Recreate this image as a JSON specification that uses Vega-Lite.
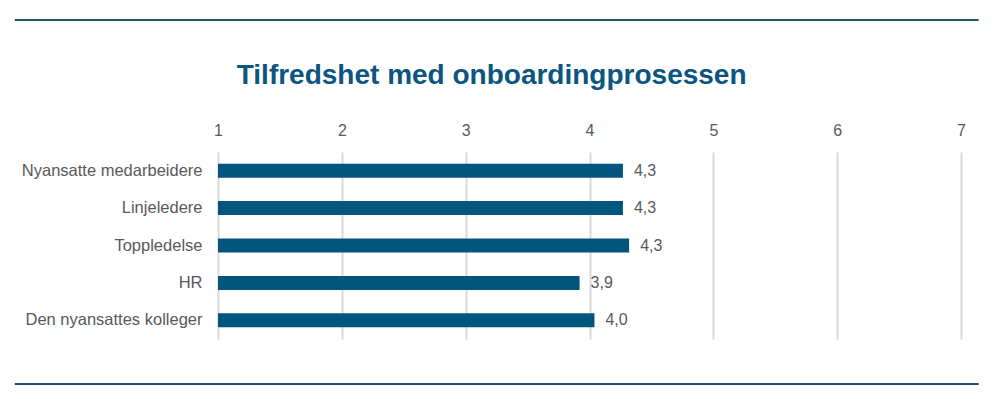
{
  "$schema": "https://vega.github.io/schema/vega-lite/v6.json",
  "width": 743,
  "height": 187,
  "autosize": {"type": "none"},
  "padding": {"left": 218, "top": 152, "right": 34, "bottom": 60},
  "background": "white",
  "title": {
    "text": "Tilfredshet med onboardingprosessen",
    "font": "Liberation Sans",
    "fontSize": 28,
    "fontWeight": "bold",
    "color": "#0b5580",
    "anchor": "middle",
    "frame": "bounds",
    "baseline": "alphabetic",
    "offset": -93,
    "dx": -5
  },
  "data": {
    "values": [
      {"gruppe": "Nyansatte medarbeidere", "verdi": 4.27, "etikett": "4,3"},
      {"gruppe": "Linjeledere", "verdi": 4.27, "etikett": "4,3"},
      {"gruppe": "Toppledelse", "verdi": 4.32, "etikett": "4,3"},
      {"gruppe": "HR", "verdi": 3.92, "etikett": "3,9"},
      {"gruppe": "Den nyansattes kolleger", "verdi": 4.04, "etikett": "4,0"}
    ]
  },
  "layer": [
    {
      "mark": {"type": "bar", "color": "#02557d", "size": 14},
      "encoding": {
        "y": {
          "field": "gruppe",
          "type": "nominal",
          "sort": null,
          "scale": {"paddingInner": 0, "paddingOuter": 0},
          "axis": {
            "title": null,
            "domain": false,
            "ticks": false,
            "labelLimit": 0,
            "labelFont": "Liberation Sans",
            "labelFontSize": 16.5,
            "labelColor": "#595959",
            "labelPadding": 16
          }
        },
        "x": {
          "field": "verdi",
          "type": "quantitative",
          "scale": {"domain": [1, 7], "nice": false, "zero": false},
          "axis": {
            "orient": "top",
            "title": null,
            "values": [1, 2, 3, 4, 5, 6, 7],
            "format": "d",
            "domain": false,
            "ticks": false,
            "grid": true,
            "gridColor": "#d9d9d9",
            "gridWidth": 2,
            "labelFlush": false,
            "labelFont": "Liberation Sans",
            "labelFontSize": 16,
            "labelColor": "#595959",
            "labelPadding": 14
          }
        },
        "x2": {"datum": 1}
      }
    },
    {
      "mark": {"type": "text", "align": "left", "dx": 11, "font": "Liberation Sans", "fontSize": 16, "color": "#595959"},
      "encoding": {
        "y": {"field": "gruppe", "type": "nominal", "sort": null, "axis": null},
        "x": {"field": "verdi", "type": "quantitative"},
        "text": {"field": "etikett"}
      }
    },
    {
      "mark": {"type": "rule", "color": "#1f4e6b", "strokeWidth": 1.2},
      "encoding": {
        "x": {"datum": -0.64, "type": "quantitative"},
        "x2": {"datum": 7.14},
        "y": {"datum": 1.706, "type": "quantitative", "scale": {"domain": [0, 1], "nice": false, "zero": false}, "axis": null}
      }
    },
    {
      "mark": {"type": "rule", "color": "#1f4e6b", "strokeWidth": 1.2},
      "encoding": {
        "x": {"datum": -0.64, "type": "quantitative"},
        "x2": {"datum": 7.14},
        "y": {"datum": -0.241, "type": "quantitative", "scale": {"domain": [0, 1], "nice": false, "zero": false}, "axis": null}
      }
    }
  ],
  "resolve": {"scale": {"y": "independent"}, "axis": {"y": "independent"}},
  "config": {"view": {"stroke": null}}
}
